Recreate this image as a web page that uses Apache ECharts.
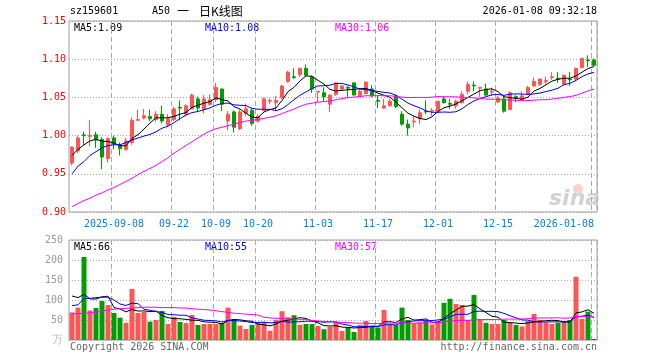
<!DOCTYPE html>
<html><head><meta charset="utf-8">
<script src="https://cdn.jsdelivr.net/npm/echarts@6/dist/echarts.min.js"></script>
<style>html,body{margin:0;padding:0;background:#fff}#c{width:660px;height:360px}</style>
</head><body><div id="c"></div>
<script>
const dates = ['2025-08-28','2025-08-29','2025-09-01','2025-09-02','2025-09-03','2025-09-04','2025-09-05',
'2025-09-08','2025-09-09','2025-09-10','2025-09-11','2025-09-12','2025-09-15','2025-09-16','2025-09-17','2025-09-18','2025-09-19',
'2025-09-22','2025-09-23','2025-09-24','2025-09-25','2025-09-26','2025-09-29','2025-09-30',
'2025-10-09','2025-10-10','2025-10-13','2025-10-14','2025-10-15','2025-10-16','2025-10-17',
'2025-10-20','2025-10-21','2025-10-22','2025-10-23','2025-10-24','2025-10-27','2025-10-28','2025-10-29','2025-10-30','2025-10-31',
'2025-11-03','2025-11-04','2025-11-05','2025-11-06','2025-11-07','2025-11-10','2025-11-11','2025-11-12','2025-11-13','2025-11-14',
'2025-11-17','2025-11-18','2025-11-19','2025-11-20','2025-11-21','2025-11-24','2025-11-25','2025-11-26','2025-11-27','2025-11-28',
'2025-12-01','2025-12-02','2025-12-03','2025-12-04','2025-12-05','2025-12-08','2025-12-09','2025-12-10','2025-12-11','2025-12-12',
'2025-12-15','2025-12-16','2025-12-17','2025-12-18','2025-12-19','2025-12-22','2025-12-23','2025-12-24','2025-12-25','2025-12-26',
'2025-12-29','2025-12-30','2025-12-31','2026-01-05','2026-01-06','2026-01-07','2026-01-08'];

const opens = [0.964,0.980,1.001,0.999,1.001,0.995,0.970,0.997,0.987,0.982,
0.991,1.020,1.023,1.025,1.021,1.028,1.014,1.021,1.037,1.028,
1.035,1.048,1.034,1.041,1.047,1.061,1.019,1.031,1.009,1.029,
1.033,1.019,1.033,1.045,1.043,1.050,1.071,1.077,1.080,1.088,
1.077,1.057,1.056,1.041,1.054,1.061,1.063,1.069,1.052,1.055,
1.061,1.046,1.036,1.039,1.052,1.028,1.015,1.018,1.022,1.032,
1.032,1.032,1.048,1.042,1.039,1.043,1.058,1.066,1.062,1.061,
1.057,1.044,1.048,1.034,1.051,1.047,1.054,1.065,1.067,1.071,
1.076,1.075,1.067,1.074,1.074,1.089,1.099,1.099];
const closes = [0.985,0.997,1.000,1.000,0.994,0.972,0.996,0.989,0.983,0.993,
1.020,1.021,1.026,1.022,1.028,1.019,1.022,1.035,1.036,1.039,
1.053,1.036,1.048,1.047,1.063,1.041,1.028,1.011,1.031,1.035,
1.016,1.025,1.048,1.046,1.046,1.065,1.083,1.076,1.088,1.079,
1.061,1.058,1.051,1.053,1.069,1.065,1.062,1.053,1.058,1.070,
1.052,1.045,1.039,1.045,1.038,1.015,1.010,1.019,1.030,1.031,
1.033,1.045,1.043,1.041,1.045,1.054,1.067,1.065,1.063,1.053,
1.058,1.049,1.032,1.056,1.049,1.052,1.063,1.071,1.074,1.072,
1.077,1.074,1.079,1.073,1.088,1.101,1.098,1.092];
const lows = [0.961,0.977,0.988,0.986,0.984,0.956,0.965,0.982,0.974,0.980,
0.988,1.019,1.021,1.019,1.018,1.016,1.012,1.019,1.020,1.025,
1.034,1.031,1.029,1.039,1.044,1.032,1.007,1.004,1.007,1.025,
1.013,1.017,1.032,1.041,1.032,1.048,1.069,1.074,1.077,1.077,
1.056,1.044,1.045,1.031,1.052,1.060,1.050,1.053,1.050,1.054,
1.050,1.036,1.035,1.038,1.036,1.013,1.000,1.011,1.015,1.028,
1.026,1.030,1.042,1.035,1.035,1.042,1.054,1.058,1.050,1.052,
1.052,1.043,1.030,1.034,1.044,1.047,1.054,1.064,1.065,1.067,
1.073,1.069,1.067,1.065,1.071,1.088,1.090,1.091];
const highs = [0.986,1.000,1.005,1.020,1.005,0.998,0.998,1.000,0.991,0.997,
1.024,1.034,1.035,1.034,1.032,1.039,1.028,1.038,1.046,1.041,
1.055,1.051,1.053,1.054,1.069,1.061,1.032,1.033,1.034,1.042,
1.036,1.028,1.050,1.049,1.052,1.066,1.085,1.088,1.089,1.093,
1.079,1.058,1.063,1.054,1.070,1.066,1.065,1.070,1.061,1.071,
1.066,1.052,1.048,1.048,1.054,1.032,1.021,1.025,1.034,1.046,
1.036,1.045,1.051,1.048,1.047,1.058,1.071,1.071,1.064,1.068,
1.063,1.052,1.052,1.058,1.053,1.058,1.065,1.076,1.075,1.077,
1.083,1.083,1.080,1.083,1.089,1.102,1.105,1.101];
const volumes = [69,81,207.5,74,80,97.5,87.5,67.5,56,43,
127.5,67.5,70,46,50,72.5,40,58,45,42.5,
62.5,37.5,40,40,40,42.5,81,52.5,36,27.5,
37.5,44,45,23,50,72,57,62,38,40,
40,35,27,33,44,22.5,31,20,37.5,47.5,
36,31,75,39,37.5,81,50,41.5,44,47.5,
39,47.5,93,103,90,87.5,50,112.5,50,43,
40,40,50,44,37.5,34,47.5,65,50,44,
40,43,47.5,50,158,52.5,71,2.5];

// moving-average values for the first days (window not yet full)
const ma5Head = [0.974,0.982,0.988,0.993];
const ma10Head = [0.950,0.960,0.966,0.974,0.979,0.984,0.987,0.988,0.988];
const ma30Head = [0.907,0.911,0.915,0.918,0.922,0.925,0.929,0.932,0.936,0.940,0.944,0.949,0.953,0.957,0.961,0.966,0.971,0.977,0.982,0.987,0.992,0.997,1.002,1.006,1.009,1.011,1.013,1.015,1.017];
const vma5Head = [110,106,114,103];
const vma10Head = [86,88,104,104,106,107,107,100,90];
const vma30Head = [65,66,67,68,69,72,75,77,78,79,80,81,82,82,82,81,81,81,80,80,78,77,76,75,73,71,69,67,66];

const tickDates = ['2025-09-08','2025-09-22','2025-10-09','2025-10-20','2025-11-03','2025-11-17','2025-12-01','2025-12-15','2026-01-08'];
const tickLabels = ['2025-09-08','09-22','10-09','10-20','11-03','11-17','12-01','12-15','2026-01-08'];

const titleCode = 'sz159601';
const titleParts = ['A50', '一', '日K线图'];
const titleTime = '2026-01-08 09:32:18';
const priceLegend = ['MA5:1.09','MA10:1.08','MA30:1.06'];
const volLegend = ['MA5:66','MA10:55','MA30:57'];

function movingAvg(arr, n, head) {
  return arr.map((v, i) => {
    if (i < n - 1) return head[i];
    let s = 0; for (let k = i - n + 1; k <= i; k++) s += arr[k];
    return +(s / n).toFixed(4);
  });
}

const UP = '#ff5555', DOWN = '#009c00';
const MONO = '"DejaVu Sans Mono", monospace';
const CJK = '"Noto Sans CJK SC", sans-serif';
const candleData = dates.map((d, i) => [opens[i], closes[i], lows[i], highs[i]]);
const volData = volumes.map((v, i) => ({ value: v, itemStyle: { color: closes[i] >= opens[i] ? UP : DOWN } }));
const isTick = (idx, val) => tickDates.indexOf(val) >= 0;

const chart = echarts.init(document.getElementById('c'), null, { renderer: 'canvas' });
const lineS = (name, data, color, xi, yi) => ({
  name, type: 'line', data, xAxisIndex: xi, yAxisIndex: yi, symbol: 'none', silent: true,
  lineStyle: { color, width: 1 }, z: 3
});
const txt = (text, x, y, fill, align, font) => ({
  type: 'text', x, y, silent: true,
  style: { text, fill, font: font || ('10px ' + MONO), align: align || 'left', textAlign: align || 'left', verticalAlign: 'middle', textVerticalAlign: 'middle' }
});

chart.setOption({
  animation: false,
  backgroundColor: '#fff',
  grid: [
    { left: 69, right: 63, top: 21, height: 191, show: true, borderColor: '#a0a0a0', borderWidth: 1, backgroundColor: 'transparent' },
    { left: 69, right: 63, top: 240, height: 100, show: true, borderColor: '#a0a0a0', borderWidth: 1, backgroundColor: 'transparent' }
  ],
  xAxis: [
    { type: 'category', gridIndex: 0, data: dates, boundaryGap: true,
      axisLine: { show: false }, axisTick: { show: false },
      axisLabel: { interval: isTick, color: '#0a7dd6', fontFamily: MONO, fontSize: 10, margin: 7, alignMaxLabel: 'right',
        formatter: v => tickLabels[tickDates.indexOf(v)] },
      splitLine: { show: true, interval: isTick, lineStyle: { color: '#aaaaaa', type: [5, 3], width: 1 } } },
    { type: 'category', gridIndex: 1, data: dates, boundaryGap: true,
      axisLine: { show: false }, axisTick: { show: false }, axisLabel: { show: false },
      splitLine: { show: true, interval: isTick, lineStyle: { color: '#aaaaaa', type: [5, 3], width: 1 } } }
  ],
  yAxis: [
    { type: 'value', gridIndex: 0, min: 0.90, max: 1.15, interval: 0.05,
      axisLine: { show: false }, axisTick: { show: false },
      axisLabel: { color: '#ff0000', fontFamily: MONO, fontSize: 10, margin: 3, formatter: v => v.toFixed(2) },
      splitLine: { show: true, lineStyle: { color: '#a8a8a8', type: [1, 2], width: 1 } } },
    { type: 'value', gridIndex: 1, min: 0, max: 250, interval: 50,
      axisLine: { show: false }, axisTick: { show: false },
      axisLabel: { color: '#999999', fontFamily: MONO, fontSize: 10, margin: 6,
        formatter: v => v === 0 ? '{u|万}' : String(v), rich: { u: { color: '#c0c0c0', fontSize: 11 } } },
      splitLine: { show: true, lineStyle: { color: '#a8a8a8', type: [1, 2], width: 1 } } }
  ],
  series: [
    { type: 'candlestick', xAxisIndex: 0, yAxisIndex: 0, data: candleData, barWidth: 4, silent: true,
      itemStyle: { color: UP, color0: DOWN, borderColor: UP, borderColor0: DOWN, borderWidth: 1 } },
    lineS('MA5', movingAvg(closes, 5, ma5Head), '#000000', 0, 0),
    lineS('MA10', movingAvg(closes, 10, ma10Head), '#0000ff', 0, 0),
    lineS('MA30', movingAvg(closes, 30, ma30Head), '#ff00ff', 0, 0),
    { type: 'bar', xAxisIndex: 1, yAxisIndex: 1, data: volData, barWidth: 5, silent: true },
    lineS('VMA5', movingAvg(volumes, 5, vma5Head), '#000000', 1, 1),
    lineS('VMA10', movingAvg(volumes, 10, vma10Head), '#0000ff', 1, 1),
    lineS('VMA30', movingAvg(volumes, 30, vma30Head), '#ff00ff', 1, 1)
  ],
  graphic: [
    txt(titleCode, 70, 11, '#000'),
    txt(titleParts[0], 152, 11, '#000'),
    txt(titleParts[1], 177, 11, '#000', 'left', '12px ' + CJK),
    txt(titleParts[2], 199, 11, '#000', 'left', '12px ' + CJK),
    txt(titleTime, 597, 11, '#000', 'right'),
    txt(priceLegend[0], 74, 28, '#000'),
    txt(priceLegend[1], 205, 28, '#0000ff'),
    txt(priceLegend[2], 335, 28, '#ff00ff'),
    txt(volLegend[0], 74, 247, '#000'),
    txt(volLegend[1], 205, 247, '#0000ff'),
    txt(volLegend[2], 335, 247, '#ff00ff'),
    txt('Copyright 2026 SINA.COM', 70, 347, '#666666'),
    txt('http://finance.sina.com.cn', 597, 347, '#666666', 'right'),
    { type: 'circle', silent: true, shape: { cx: 578, cy: 189, r: 5 }, style: { fill: 'rgba(240,120,120,0.35)' } },
    txt('sina', 549, 199, '#d2d2d2', 'left', 'italic bold 22px "DejaVu Sans", sans-serif')
  ]
});
</script></body></html>
